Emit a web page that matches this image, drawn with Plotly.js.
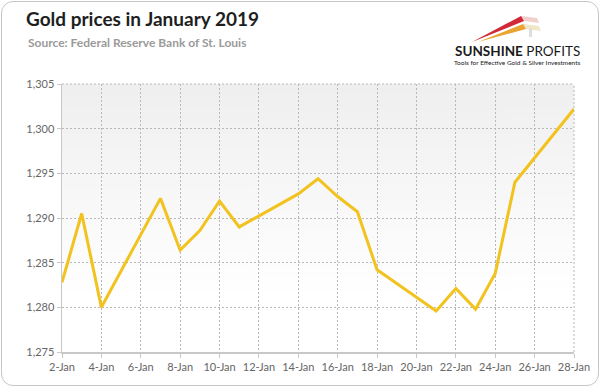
<!DOCTYPE html>
<html><head><meta charset="utf-8">
<script src="https://cdn.plot.ly/plotly-3.0.1.min.js"></script>
<style>
html,body{margin:0;padding:0;background:#fff;}
#frame{position:absolute;left:1px;top:1px;width:596px;height:383px;border:1.5px solid #c6c6c6;border-radius:12px;background:#fff;}
#chart{position:absolute;left:0;top:0;width:602px;height:388px;}
</style></head>
<body>
<div id="frame"></div>
<div id="chart"></div>
<script>
// Data
var dates = ['2019-01-02','2019-01-03','2019-01-04','2019-01-07','2019-01-08','2019-01-09','2019-01-10','2019-01-11',
             '2019-01-14','2019-01-15','2019-01-16','2019-01-17','2019-01-18','2019-01-21','2019-01-22','2019-01-23',
             '2019-01-24','2019-01-25','2019-01-28'];
var prices = [1282.8,1290.5,1280.0,1292.2,1286.4,1288.6,1291.9,1289.0,
              1292.7,1294.4,1292.4,1290.7,1284.2,1279.6,1282.1,1279.8,
              1283.8,1294.0,1302.2];
var titleText = 'Gold prices in January 2019';
var sourceText = 'Source: Federal Reserve Bank of St. Louis';

// gradient for plot background
var cv = document.createElement('canvas'); cv.width = 4; cv.height = 200;
var ctx = cv.getContext('2d');
var g = ctx.createLinearGradient(0,0,0,200);
g.addColorStop(0,'#efefef'); g.addColorStop(0.78,'#ffffff'); g.addColorStop(1,'#ffffff');
ctx.fillStyle = g; ctx.fillRect(0,0,4,200);
var bgImg = cv.toDataURL();

var L=62, R=574, T=84, B=352;
function px(x){return (x-L)/(R-L);}
function py(y){return (B-y)/(B-T);}
function path(pts){return 'M'+pts.map(function(p){return px(p[0])+','+py(p[1]);}).join(' L')+' Z';}

var fontF = 'Lato, "Open Sans", sans-serif';
var gridDash = '2px,2px';
var layout = {
  width:602, height:388,
  margin:{l:L, r:602-R, t:T, b:388-B},
  paper_bgcolor:'rgba(0,0,0,0)', plot_bgcolor:'rgba(0,0,0,0)',
  showlegend:false,
  xaxis:{type:'date', range:['2019-01-02','2019-01-28'], tick0:'2019-01-02', dtick:2*86400000,
    tickformat:'%-d-%b', showgrid:true, gridcolor:'#b8b8b8', griddash:gridDash, gridwidth:1,
    showline:true, linecolor:'#c8c8c8', linewidth:1.5, ticks:'outside', ticklen:4, tickcolor:'#c8c8c8',
    tickfont:{family:fontF, size:11, color:'#666'}, zeroline:false, fixedrange:true},
  yaxis:{range:[1275,1305], dtick:5, tick0:1275, tickformat:',d', showgrid:true, gridcolor:'#b8b8b8', griddash:gridDash,
    showline:true, linecolor:'#c8c8c8', linewidth:1.5, ticks:'outside', ticklen:4, tickcolor:'#c8c8c8',
    tickfont:{family:fontF, size:11, color:'#666'}, zeroline:false, fixedrange:true},
  images:[{source:bgImg, xref:'paper', yref:'paper', x:0, y:1, sizex:1, sizey:1, sizing:'stretch', xanchor:'left', yanchor:'top', layer:'below'}],
  shapes:[
    {type:'line', xref:'paper', yref:'paper', x0:1, x1:1, y0:0, y1:1, line:{color:'#b8b8b8', width:1, dash:gridDash}, layer:'below'},
    {type:'line', xref:'paper', yref:'paper', x0:0, x1:1, y0:1, y1:1, line:{color:'#b8b8b8', width:1, dash:gridDash}, layer:'below'},
    // logo streaks
    {type:'path', xref:'paper', yref:'paper', path:path([[521,16],[524,21],[539,23],[537,18]]), fillcolor:'rgba(225,150,140,0.45)', line:{width:0}},
    {type:'path', xref:'paper', yref:'paper', path:path([[523,24],[526,29],[541,31],[539,26]]), fillcolor:'rgba(225,205,150,0.5)', line:{width:0}},
    {type:'path', xref:'paper', yref:'paper', path:path([[529,29],[532,29],[532,37],[529,37]]), fillcolor:'rgba(190,190,190,0.5)', line:{width:0}},
    {type:'path', xref:'paper', yref:'paper', path:path([[472,42],[521,16],[524,21]]), fillcolor:'rgba(205,30,45,0.95)', line:{width:0}},
    {type:'path', xref:'paper', yref:'paper', path:path([[478,42],[523,24],[526,29]]), fillcolor:'rgba(232,160,40,0.95)', line:{width:0}}
  ],
  annotations:[
    {text:'<b>'+titleText+'</b>', xref:'paper', yref:'paper', x:px(24), y:py(19), xanchor:'left', yanchor:'middle', showarrow:false,
     font:{family:fontF, size:19, color:'#1e1e1e'}},
    {text:'<b>'+sourceText+'</b>', xref:'paper', yref:'paper', x:px(26), y:py(43), xanchor:'left', yanchor:'middle', showarrow:false,
     font:{family:fontF, size:12, color:'#9a9a9a'}},
    {text:'<b>SUNSHINE</b> PROFITS', xref:'paper', yref:'paper', x:px(517), y:py(51), xanchor:'center', yanchor:'middle', showarrow:false,
     font:{family:fontF, size:13.5, color:'#1a1a1a'}},
    {text:'Tools for Effective Gold & Silver Investments', xref:'paper', yref:'paper', x:px(517), y:py(62), xanchor:'center', yanchor:'middle', showarrow:false,
     font:{family:fontF, size:6.5, color:'#222'}}
  ]
};
var trace = {x:dates, y:prices, type:'scatter', mode:'lines', line:{color:'#f2c21e', width:3}, hoverinfo:'x+y'};
Plotly.newPlot('chart',[trace],layout,{displayModeBar:false, staticPlot:true});
</script>
</body></html>
